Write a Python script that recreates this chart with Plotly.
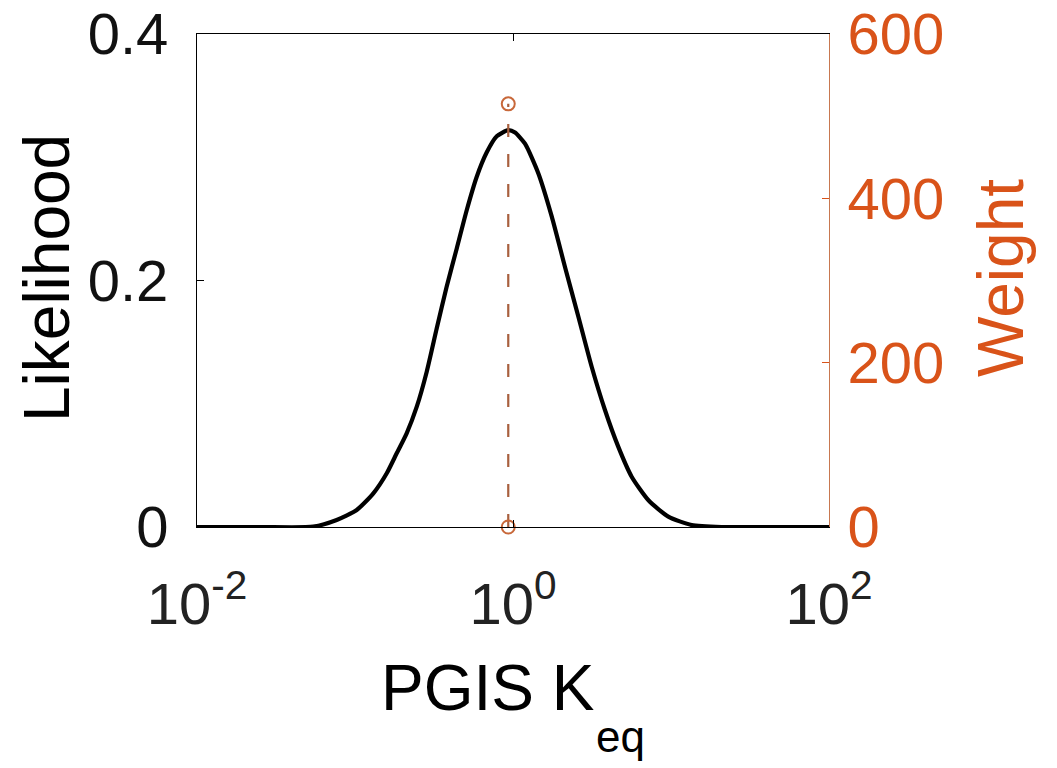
import plotly.graph_objects as go

# ---- data ----
log10_keq = [-2.0, -1.6, -1.264, -1.116, -0.989, -0.884, -0.799, -0.736, -0.673,
             -0.609, -0.546, -0.483, -0.420, -0.356, -0.293, -0.230, -0.166,
             -0.103, -0.030, 0.013, 0.076, 0.160, 0.245, 0.329, 0.413, 0.498,
             0.582, 0.666, 0.751, 0.856, 0.983, 1.131, 1.32, 1.6, 2.0]
likelihood = [0.0, 0.0, 0.0003, 0.0057, 0.0138, 0.0273, 0.0436, 0.0598, 0.076,
              0.0976, 0.126, 0.161, 0.195, 0.226, 0.257, 0.284, 0.304,
              0.317, 0.322, 0.320, 0.311, 0.287, 0.252, 0.211, 0.171, 0.130,
              0.0949, 0.0652, 0.0408, 0.0219, 0.0084, 0.0016, 0.0, 0.0, 0.0]

stem_log10_keq = [-0.03]
stem_weight = [515]

x_tick_vals = [0.01, 1, 100]
x_tick_text = ["10<sup>-2</sup>", "10<sup>0</sup>", "10<sup>2</sup>"]
y_tick_vals = [0, 0.2, 0.4]
y_tick_text = ["0", "0.2", "0.4"]
y2_tick_vals = [0, 200, 400, 600]
y2_tick_text = ["0", "200", "400", "600"]

ORANGE = "#D95319"
STEM = "#A8603F"
FONT = "Liberation Sans, Arial, sans-serif"

keq = [10 ** v for v in log10_keq]

fig = go.Figure()
fig.add_trace(go.Scatter(
    x=keq, y=likelihood, mode="lines",
    line=dict(color="black", width=4.2, shape="spline", smoothing=0.6),
    cliponaxis=False, showlegend=False, hoverinfo="skip"))

for lk, w in zip(stem_log10_keq, stem_weight):
    k = 10 ** lk
    fig.add_trace(go.Scatter(
        x=[k, k], y=[0, w], yaxis="y2", mode="lines+markers",
        line=dict(color=STEM, width=2.2, dash="13px,17px"),
        marker=dict(symbol="circle-open", size=13, color="#C8683A",
                    line=dict(width=2, color="#C8683A")),
        cliponaxis=False, showlegend=False, hoverinfo="skip"))

# page has an 8px body margin; work in page pixels and convert
OFF = 8
W, H = 1057 - OFF, 768 - OFF
PL, PR, PT, PB = 197, 829, 34, 527   # plot area in page pixels
L, T = PL - OFF, PT - OFF
R, B = W - (PR - OFF), H - (PB - OFF)
pw, ph = PR - PL, PB - PT

def px_to_paper_x(px):
    return (px - PL) / pw

def px_to_paper_y(py):
    return (PB - py) / ph

fig.update_layout(
    width=W, height=H,
    margin=dict(l=L, r=R, t=T, b=B, autoexpand=False),
    paper_bgcolor="white", plot_bgcolor="white",
    font=dict(family=FONT, size=58, color="black"),
    xaxis=dict(type="log", range=[-2, 2], tickvals=x_tick_vals, ticktext=x_tick_text,
               ticks="inside", ticklen=7, tickcolor="black", showline=True,
               linecolor="black", linewidth=1, mirror="ticks", showgrid=False,
               zeroline=False, ticklabelstandoff=26, ticklabeloverflow="allow",
               tickfont=dict(family=FONT, size=58, color="#222222")),
    yaxis=dict(range=[0, 0.4], tickvals=y_tick_vals, ticktext=y_tick_text,
               ticks="inside", ticklen=7, tickcolor="black", showline=True,
               linecolor="black", linewidth=1, showgrid=False, zeroline=False,
               ticklabelstandoff=16, ticklabeloverflow="allow",
               tickfont=dict(family=FONT, size=58, color="#111111")),
    yaxis2=dict(range=[0, 600], tickvals=y2_tick_vals, ticktext=y2_tick_text,
                overlaying="y", side="right", ticks="inside", ticklen=7,
                tickcolor=ORANGE, showline=True, linecolor="#C87850", linewidth=1,
                showgrid=False, zeroline=False, ticklabelstandoff=6,
                ticklabeloverflow="allow",
                tickfont=dict(family=FONT, size=58, color=ORANGE)),
    annotations=[
        dict(text="Likelihood", textangle=-90, xref="paper", yref="paper",
             x=px_to_paper_x(47), y=px_to_paper_y(278), xanchor="center",
             yanchor="middle", showarrow=False,
             font=dict(family=FONT, size=64, color="black")),
        dict(text="Weight", textangle=-90, xref="paper", yref="paper",
             x=px_to_paper_x(1001), y=px_to_paper_y(278), xanchor="center",
             yanchor="middle", showarrow=False,
             font=dict(family=FONT, size=64, color=ORANGE)),
        dict(text="PGIS K", xref="paper", yref="paper",
             x=px_to_paper_x(596), y=px_to_paper_y(688), xanchor="right",
             yanchor="middle", showarrow=False,
             font=dict(family=FONT, size=64, color="black")),
        dict(text="eq", xref="paper", yref="paper",
             x=px_to_paper_x(594), y=px_to_paper_y(736), xanchor="left",
             yanchor="middle", showarrow=False,
             font=dict(family=FONT, size=44, color="black")),
    ],
)

fig.write_html("out.html")
